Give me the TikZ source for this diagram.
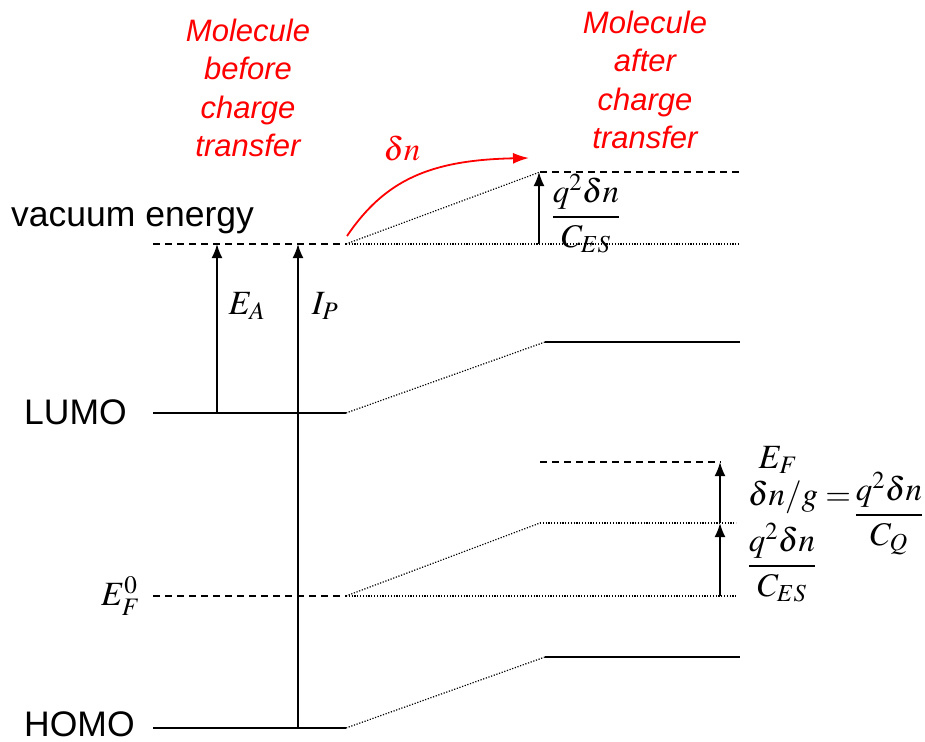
\documentclass[tikz,border=0pt]{standalone}
\usepackage{amsmath}
\usepackage{mathptmx}
\usepackage[no-math]{fontspec}
\setmainfont{Liberation Sans}
\usetikzlibrary{arrows.meta}
\begin{document}
\begin{tikzpicture}[x=1pt,y=-1pt,
  lvl/.style={line width=1.6pt},
  dsh/.style={line width=1.3pt,dash pattern=on 7pt off 5pt},
  dtt/.style={line width=1.2pt,dash pattern=on 1.2pt off 1.6pt},
  up/.style={line width=1.9pt,-{Latex[length=14pt,width=11pt]}},
  lbl/.style={inner sep=0pt,font=\fontsize{35.5}{40}\selectfont},
  mth/.style={inner sep=0pt,font=\fontsize{34}{40}\selectfont},
  fra/.style={inner sep=0pt,font=\fontsize{33}{40}\selectfont},
  redtxt/.style={inner sep=0pt,text=red,align=center,font=\fontsize{31}{38.5}\selectfont\itshape}]
\useasboundingbox (0,0) rectangle (925,741);
% coordinates left
\coordinate (vl) at (153,244); \coordinate (vr) at (346,244);
\coordinate (ll) at (153,413); \coordinate (lr) at (346,413);
\coordinate (fl) at (153,596); \coordinate (fr) at (346,596);
\coordinate (hl) at (153,728); \coordinate (hr) at (346,728);
% coordinates right
\coordinate (v2l) at (540,172); \coordinate (v2r) at (740,172);
\coordinate (v0r) at (740,244);
\coordinate (l2l) at (545,342); \coordinate (l2r) at (740,342);
\coordinate (f2l) at (540,523); \coordinate (f2r) at (736,523);
\coordinate (f0r) at (736,596);
\coordinate (e2l) at (540,462); \coordinate (e2r) at (721,462);
\coordinate (h2l) at (545,657); \coordinate (h2r) at (740,657);
% left levels
\draw[dsh] (vl) -- (vr);
\draw[lvl] (ll) -- (lr);
\draw[dsh] (fl) -- (fr);
\draw[lvl] (hl) -- (hr);
% connections
\draw[dtt] (vr) -- (v2l);
\draw[dtt] (vr) -- (v0r);
\draw[dtt] (lr) -- (l2l);
\draw[dtt] (fr) -- (f2l);
\draw[dtt] (fr) -- (f0r);
\draw[dtt] (hr) -- (h2l);
% right levels
\draw[dsh] (v2l) -- (v2r);
\draw[lvl] (l2l) -- (l2r);
\draw[dtt] (f2l) -- (f2r);
\draw[dsh] (e2l) -- (e2r);
\draw[lvl] (h2l) -- (h2r);
% arrows
\coordinate (ea0) at (217,413); \coordinate (ea1) at (217,244);
\coordinate (ip0) at (298,728); \coordinate (ip1) at (298,244);
\draw[up] (ea0) -- (ea1);
\draw[up] (ip0) -- (ip1);
\coordinate (q0) at (539,244); \coordinate (q1) at (539,172);
\draw[up] (q0) -- (q1);
\coordinate (c0) at (720,596); \coordinate (c1) at (720,523); \coordinate (c2) at (720,462);
\draw[up] (c0) -- (c1);
\draw[up] (c1) -- (c2);
% red curve
\coordinate (r0) at (347,236); \coordinate (r1) at (529,158);
\draw[red,line width=1.8pt,-{Latex[length=16pt,width=11pt]}] (r0) .. controls (385,180) and (430,160) .. (r1);
\node[inner sep=0pt,text=red,font=\fontsize{33}{38}\selectfont] (dn) at (402,148) {$\delta n$};
% labels
\node[redtxt] (mb) at (248,88) {Molecule\\before\\charge\\transfer};
\node[redtxt] (ma) at (645,80) {Molecule\\after\\charge\\transfer};
\node[lbl,anchor=west] (vac) at (11,221) {vacuum energy};
\node[lbl,anchor=west] (lumo) at (24,412) {LUMO};
\node[lbl,anchor=west] (homo) at (24,724) {HOMO};
\node[mth,anchor=east] (ef0) at (140,596) {$E_F^0$};
\node[mth] (ea) at (247,306) {$E_A$};
\node[mth] (ip) at (325,306) {$I_P$};
\node[fra] (fr1) at (586,214) {$\dfrac{q^2\delta n}{C_{ES}}$};
\node[mth] (ef) at (778,460) {$E_F$};
\node[fra,anchor=west] (dng) at (748,497) {$\delta n/g =$};
\node[fra] (fq) at (889,514) {$\dfrac{q^2\delta n}{C_Q}$};
\node[fra] (fr2) at (782,563) {$\dfrac{q^2\delta n}{C_{ES}}$};
\end{tikzpicture}
\end{document}
